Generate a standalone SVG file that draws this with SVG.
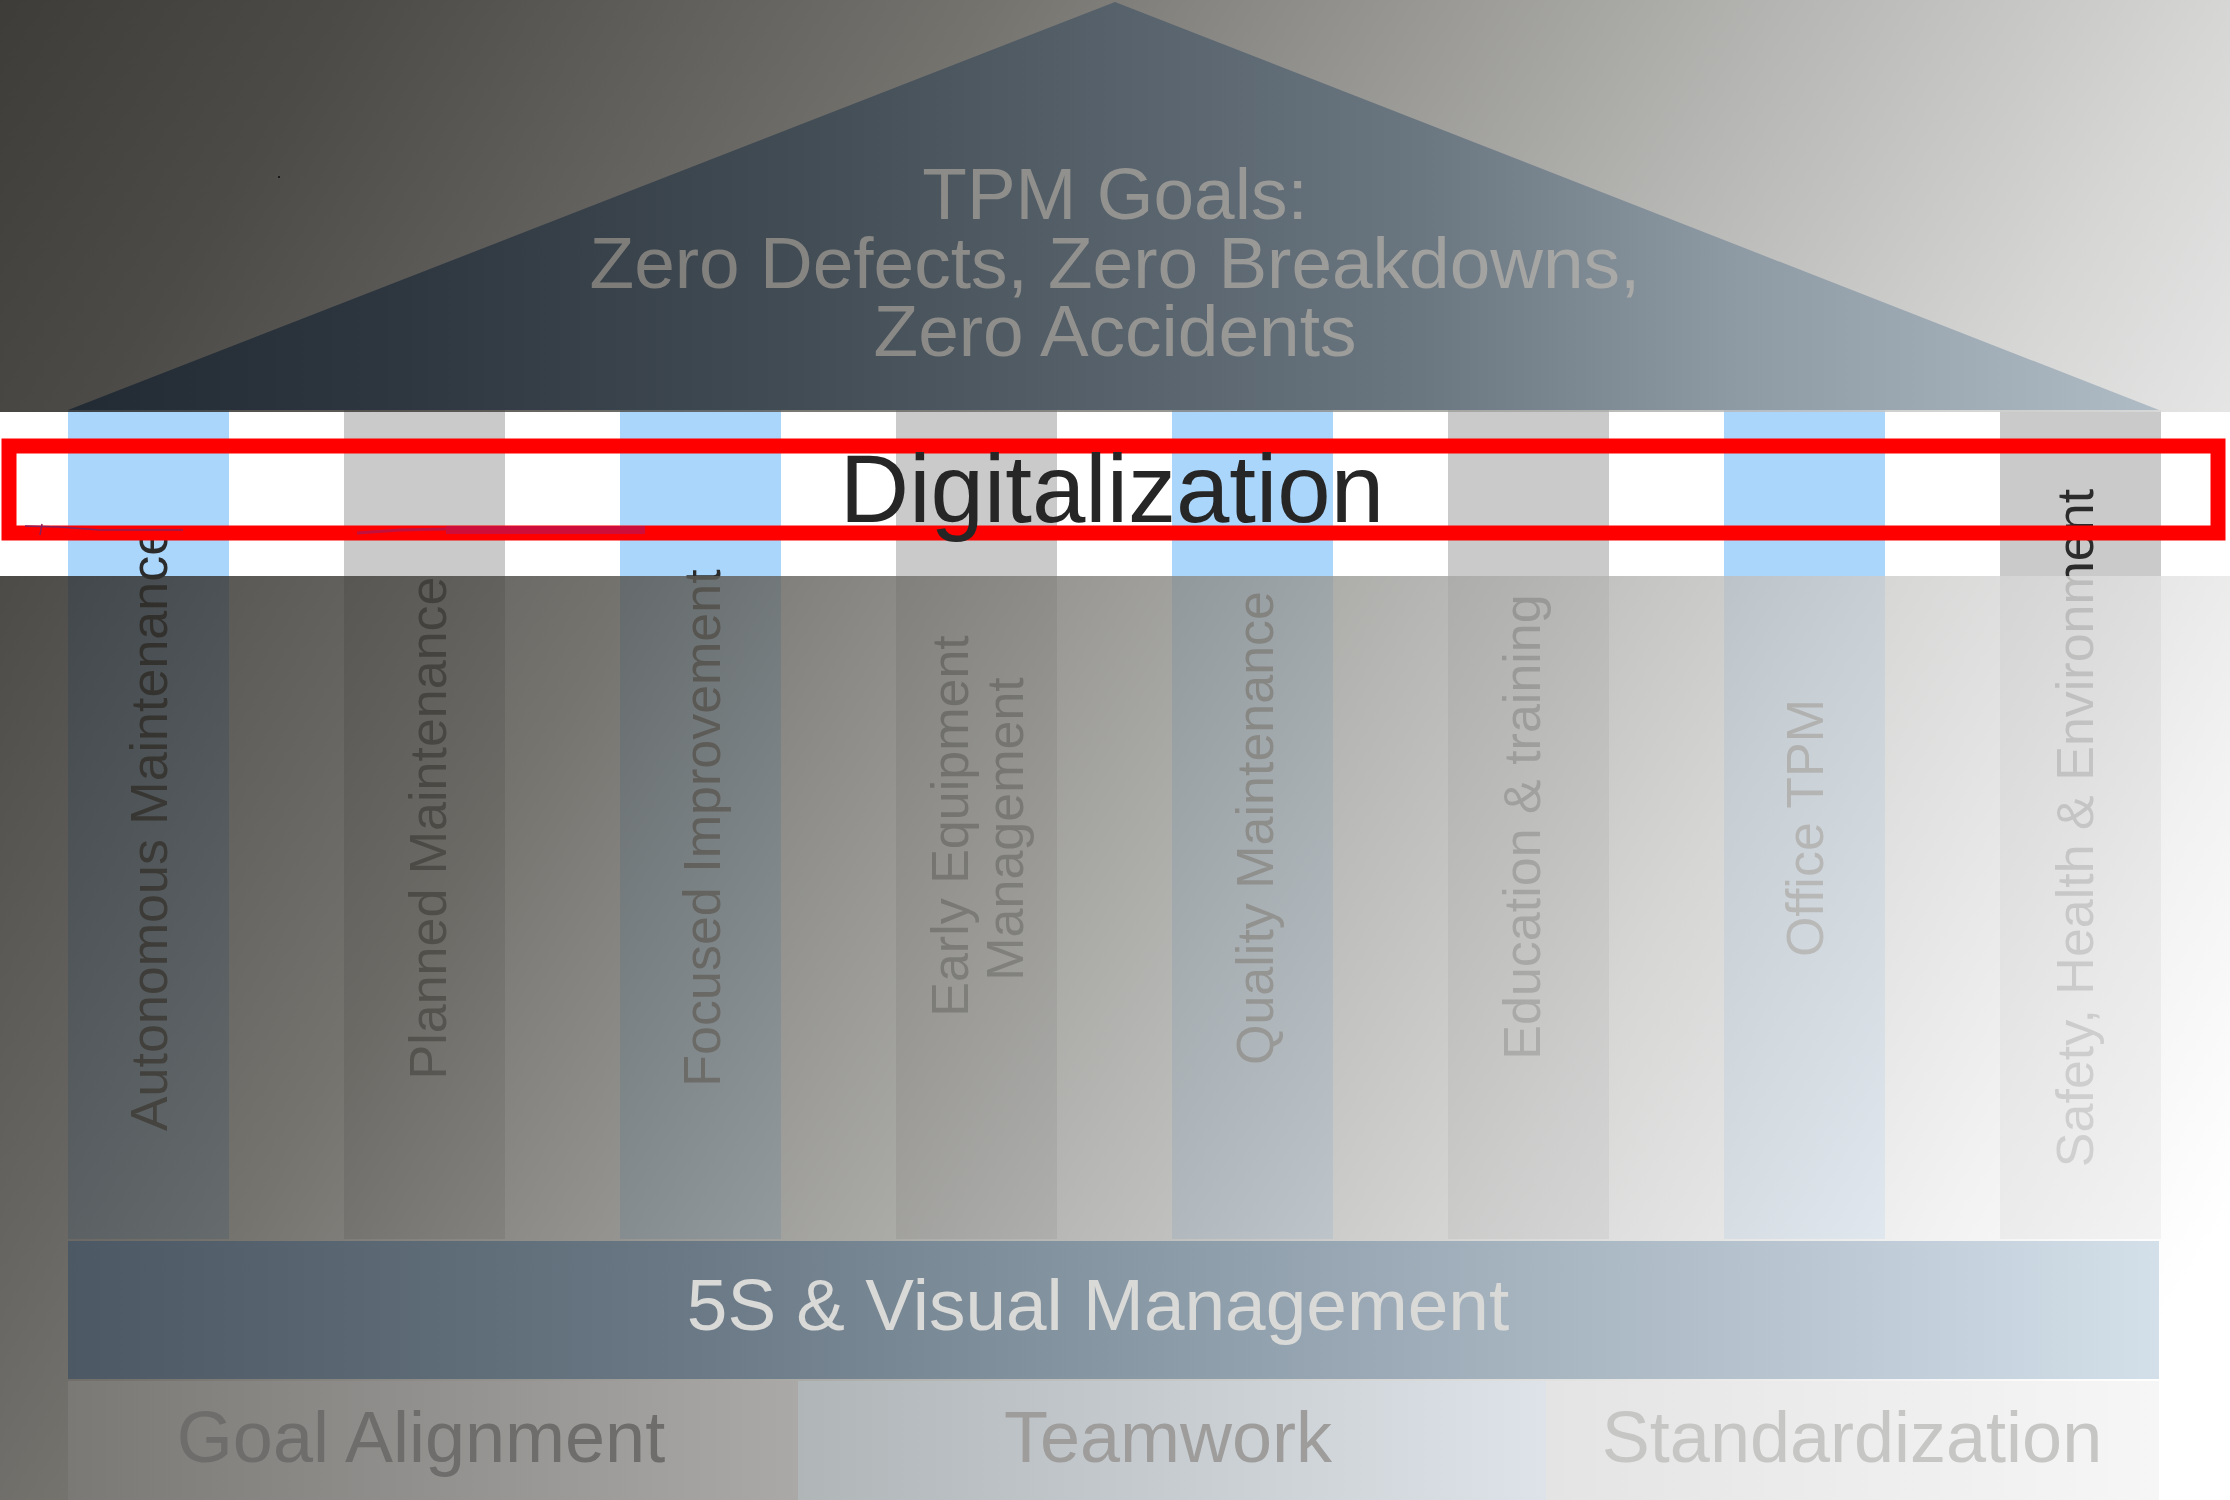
<svg xmlns="http://www.w3.org/2000/svg" width="2230" height="1500" viewBox="0 0 2230 1500">
<defs>
<linearGradient id="ov" gradientUnits="userSpaceOnUse" x1="0" y1="0" x2="2280" y2="1409">
<stop offset="0" stop-color="#13120d"/>
<stop offset="0.111" stop-color="#25231f"/>
<stop offset="0.25" stop-color="#46443f"/>
<stop offset="0.317" stop-color="#57554f"/>
<stop offset="0.39" stop-color="#6e6d68"/>
<stop offset="0.571" stop-color="#a6a6a3"/>
<stop offset="0.708" stop-color="#cdcdcc"/>
<stop offset="0.856" stop-color="#efefef"/>
<stop offset="0.946" stop-color="#ffffff"/>
</linearGradient>
<linearGradient id="roofG" gradientUnits="userSpaceOnUse" x1="68" y1="0" x2="2159" y2="0">
<stop offset="0" stop-color="#222b33"/>
<stop offset="0.159" stop-color="#2e3740"/>
<stop offset="0.357" stop-color="#434d56"/>
<stop offset="0.446" stop-color="#4f5a63"/>
<stop offset="0.647" stop-color="#6a7680"/>
<stop offset="0.8" stop-color="#8e9aa4"/>
<stop offset="1" stop-color="#b0bcc5"/>
</linearGradient>
<linearGradient id="roofT" gradientUnits="userSpaceOnUse" x1="586" y1="0" x2="1643" y2="0">
<stop offset="0" stop-color="#7c7b78"/>
<stop offset="1" stop-color="#aaaaa8"/>
</linearGradient>
<linearGradient id="barG" gradientUnits="userSpaceOnUse" x1="68" y1="0" x2="2159" y2="0">
<stop offset="0" stop-color="#4c5864"/>
<stop offset="0.3" stop-color="#6a7985"/>
<stop offset="0.5" stop-color="#8797a4"/>
<stop offset="0.69" stop-color="#a5b3bf"/>
<stop offset="1" stop-color="#d3dfe9"/>
</linearGradient>
<linearGradient id="gaG" gradientUnits="userSpaceOnUse" x1="68" y1="0" x2="798" y2="0">
<stop offset="0" stop-color="#7a7976"/>
<stop offset="1" stop-color="#aaa9a7"/>
</linearGradient>
<linearGradient id="twG" gradientUnits="userSpaceOnUse" x1="798" y1="0" x2="1546" y2="0">
<stop offset="0" stop-color="#b0b5b8"/>
<stop offset="1" stop-color="#dde3e8"/>
</linearGradient>
<linearGradient id="stG" gradientUnits="userSpaceOnUse" x1="1546" y1="0" x2="2159" y2="0">
<stop offset="0" stop-color="#e4e4e4"/>
<stop offset="1" stop-color="#f6f6f6"/>
</linearGradient>
</defs>
<style>
.lbl{font-family:"Liberation Sans",Arial,sans-serif;font-size:52px;fill:#2b2b2b;text-anchor:middle}
.big{font-family:"Liberation Sans",Arial,sans-serif;font-size:72px;text-anchor:middle}
.roofTxt{font-family:"Liberation Sans",Arial,sans-serif;font-size:73px;text-anchor:middle;fill:url(#roofT)}
.blue{fill:#abd6fb}
.gray{fill:#cbcacb}
.veil{fill:url(#ov);opacity:0.82}
</style>
<rect x="0" y="0" width="2230" height="1500" fill="#ffffff"/>

<g id="pillar-1"><rect class="blue" x="68" y="410" width="161" height="829"/><text class="lbl" transform="translate(167,829) rotate(-90)">Autonomous Maintenance</text></g>
<g id="pillar-2"><rect class="gray" x="344" y="410" width="161" height="829"/><text class="lbl" transform="translate(446,828) rotate(-90)">Planned Maintenance</text></g>
<g id="pillar-3"><rect class="blue" x="620" y="410" width="161" height="829"/><text class="lbl" transform="translate(720,828) rotate(-90)">Focused Improvement</text></g>
<g id="pillar-4"><rect class="gray" x="896" y="410" width="161" height="829"/><text class="lbl" transform="translate(968,826) rotate(-90)">Early Equipment</text><text class="lbl" transform="translate(1023,829) rotate(-90)">Management</text></g>
<g id="pillar-5"><rect class="blue" x="1172" y="410" width="161" height="829"/><text class="lbl" transform="translate(1273,828) rotate(-90)">Quality Maintenance</text></g>
<g id="pillar-6"><rect class="gray" x="1448" y="410" width="161" height="829"/><text class="lbl" transform="translate(1540,827) rotate(-90)">Education &amp; training</text></g>
<g id="pillar-7"><rect class="blue" x="1724" y="410" width="161" height="829"/><text class="lbl" transform="translate(1823,828) rotate(-90)">Office TPM</text></g>
<g id="pillar-8"><rect class="gray" x="2000" y="410" width="161" height="829"/><text class="lbl" transform="translate(2093,828) rotate(-90)">Safety, Health &amp; Environment</text></g>

<g id="highlight">
<rect x="9" y="446" width="2209" height="87" fill="none" stroke="#ff0000" stroke-width="15"/>
<rect x="446" y="526" width="199" height="8" fill="#cf0d3a"/>
<polyline points="357,533 400,530 446,529" fill="none" stroke="#c0103e" stroke-width="3"/>
<polyline points="25,526 60,527 100,530 183,530" fill="none" stroke="#8a1f5a" stroke-width="1.5"/>
<line x1="42" y1="524" x2="40" y2="535" stroke="#8a1f5a" stroke-width="1.5"/>
</g>

<g id="veil">
<rect class="veil" x="0" y="0" width="2230" height="412"/>
<rect class="veil" x="0" y="576" width="2230" height="924"/>
</g>

<g id="roof">
<polygon points="1115,2 2159,410 68,410" fill="url(#roofG)"/>
<text class="roofTxt" x="1115" y="219">TPM Goals:</text>
<text class="roofTxt" x="1115" y="288">Zero Defects, Zero Breakdowns,</text>
<text class="roofTxt" x="1115" y="356">Zero Accidents</text>
</g>
<rect x="278" y="176" width="2" height="2" fill="#1a1a1a"/>

<g id="foundation">
<rect x="68" y="1241" width="2091" height="138" fill="url(#barG)"/>
<text class="big" x="1098" y="1330" fill="#d9d9d7" style="font-size:73px">5S &amp; Visual Management</text>
</g>
<g id="base-goal">
<rect x="68" y="1381" width="730" height="119" fill="url(#gaG)"/>
<text class="big" x="421" y="1462" fill="#6e6d6b">Goal Alignment</text>
</g>
<g id="base-teamwork">
<rect x="798" y="1381" width="748" height="119" fill="url(#twG)"/>
<text class="big" x="1168" y="1462" fill="#9e9d9b">Teamwork</text>
</g>
<g id="base-standardization">
<rect x="1546" y="1381" width="613" height="119" fill="url(#stG)"/>
<text class="big" x="1852" y="1462" fill="#c6c6c4">Standardization</text>
</g>

<g id="connectors"/>

<g id="digitalization">
<text x="1112" y="522" style="font-family:'Liberation Sans',Arial,sans-serif;font-size:96px;fill:#262626;text-anchor:middle">Digitalization</text>
</g>
</svg>
